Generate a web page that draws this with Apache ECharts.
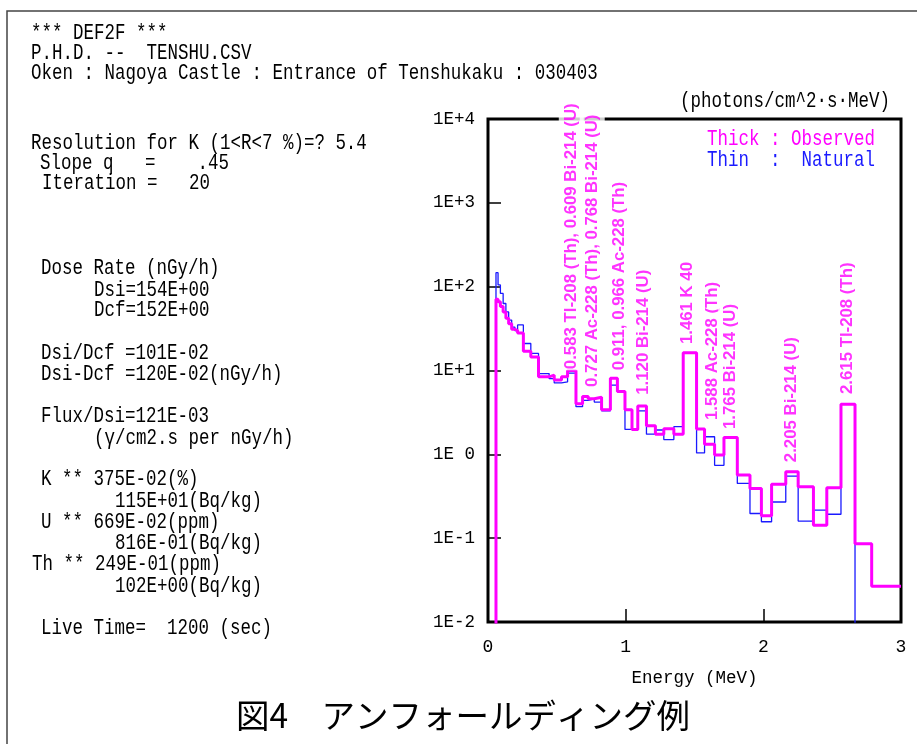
<!DOCTYPE html>
<html><head><meta charset="utf-8">
<script src="https://cdn.jsdelivr.net/npm/echarts@6/dist/echarts.min.js"></script>
<style>html,body{margin:0;padding:0;background:#fff}#c{width:917px;height:744px}</style>
</head><body><div id="c"></div>
<script>
// Bin edges (MeV)
const binEdges = [0, 0.058, 0.073, 0.090, 0.110, 0.130, 0.150, 0.172, 0.195, 0.215,
  0.257, 0.311, 0.367, 0.444, 0.481, 0.534, 0.578, 0.639, 0.687, 0.728,
  0.772, 0.825, 0.889, 0.940, 0.995, 1.046, 1.088, 1.151, 1.216, 1.277,
  1.350, 1.418, 1.515, 1.573, 1.646, 1.714, 1.811, 1.903, 1.986, 2.060,
  2.163, 2.253, 2.364, 2.461, 2.564, 2.666, 2.787, 3.0];
// Thick : Observed (photons/cm^2·s·MeV)
const observed = [0.001, 71, 66, 58, 50, 42, 36, 31, 30,
  28, 17, 14.5, 8.4, 8.8, 7.7, 8.4, 10, 4.0, 4.9,
  4.6, 4.8, 3.4, 8.1, 5.6, 3.4, 1.98, 3.76, 2.2, 1.74,
  2.02, 1.74, 16.3, 2.0, 1.32, 0.98, 1.59, 0.565, 0.39, 0.185,
  0.44, 0.62, 0.41, 0.143, 0.40, 3.97, 0.086, 0.0267];
// Thin : Natural
const natural = [0.001, 147, 105, 83, 63, 50, 40, 33, 30,
  35, 21, 16, 9.2, 8, 7.1, 7.3, 9.3, 3.7, 4.4,
  4.6, 4.2, 3.3, 6.7, 5.6, 1.98, 1.95, 3.3, 1.74, 1.95,
  1.5, 2.14, 16.3, 1.04, 1.62, 0.74, 1.59, 0.45, 0.197, 0.157,
  0.27, 0.55, 0.16, 0.216, 0.193, 3.97, 0.001, 0.001];
// Peak annotations
const peakLabels = ['0.583 Tl-208 (Th), 0.609 Bi-214 (U)', '0.727 Ac-228 (Th), 0.768 Bi-214 (U)',
  '0.911, 0.966 Ac-228 (Th)', '1.120 Bi-214 (U)', '1.461 K 40', '1.588 Ac-228 (Th)',
  '1.765 Bi-214 (U)', '2.205 Bi-214 (U)', '2.615 Tl-208 (Th)'];
const peakE = [0.605, 0.757, 0.954, 1.129, 1.449, 1.628, 1.763, 2.203, 2.607];
const peakY = [10.1, 6.2, 9.8, 5.0, 20.1, 2.5, 1.95, 0.785, 5.1];
const xTicks = [0, 1, 2, 3];

const steps = (edges, vals) => {
  const p = vals.map((v, i) => [edges[i], v]);
  p.push([edges[edges.length - 1], vals[vals.length - 1]]);
  return p;
};
const MONO = '"Liberation Mono", monospace';
const txt = (x, y, t, color) => ({
  type: 'text', x: x, y: y, scaleX: 0.795, z: 10,
  style: { text: t, fontFamily: MONO, fontSize: 22, fill: color || '#000', align: 'left', verticalAlign: 'middle' }
});

const chart = echarts.init(document.getElementById('c'), null, { renderer: 'canvas' });
chart.setOption({
  animation: false,
  backgroundColor: '#fff',
  grid: { left: 488, right: 16, top: 119, bottom: 122, show: true, borderColor: '#000', borderWidth: 3, backgroundColor: 'transparent' },
  xAxis: {
    type: 'value', min: xTicks[0], max: xTicks[xTicks.length - 1], interval: 1,
    axisLine: { show: false },
    axisTick: { show: true, inside: true, length: 13, lineStyle: { color: '#000', width: 1.5 } },
    splitLine: { show: false },
    axisLabel: { fontFamily: MONO, fontSize: 18, color: '#000', margin: 16 },
    name: 'Energy (MeV)', nameLocation: 'middle', nameGap: 47,
    nameTextStyle: { fontFamily: MONO, fontSize: 17.5, color: '#000' }
  },
  yAxis: {
    type: 'log', logBase: 10, min: 0.01, max: 10000, splitNumber: 6,
    axisLine: { show: false },
    axisTick: { show: true, inside: true, length: 13, lineStyle: { color: '#000', width: 1.5 } },
    splitLine: { show: false },
    minorTick: { show: false },
    axisLabel: {
      fontFamily: MONO, fontSize: 17.5, color: '#000', margin: 13,
      formatter: v => { const e = Math.round(Math.log10(v)); return e === 0 ? '1E 0' : '1E' + (e > 0 ? '+' : '') + e; }
    }
  },
  series: [
    { name: 'Natural', type: 'line', step: 'end', symbol: 'none', clip: true, z: 3,
      lineStyle: { color: '#1a1aff', width: 1.3 }, data: steps(binEdges, natural) },
    { name: 'Observed', type: 'line', step: 'end', symbol: 'none', clip: true, z: 4,
      lineStyle: { color: '#ff00ff', width: 3 }, data: steps(binEdges, observed) },
    { name: 'Peaks', type: 'scatter', symbolSize: 1, z: 6, silent: true, clip: false,
      itemStyle: { color: 'rgba(0,0,0,0)' },
      label: { show: true, position: 'inside', rotate: 90, align: 'left', verticalAlign: 'middle',
        formatter: '{b}', color: '#ff00ff', fontFamily: '"Liberation Sans", Arial, sans-serif', fontWeight: 'bold', fontSize: 16.8,
        backgroundColor: '#fff', padding: [4, 1, 4, 1] },
      data: peakE.map((e, i) => ({ name: peakLabels[i], value: [e, peakY[i]] })) }
  ],
  graphic: [
    { type: 'rect', z: 0, shape: { x: 7, y: 11, width: 1000, height: 800 }, style: { fill: 'none', stroke: '#444', lineWidth: 1.5 } },
    txt(31, 33, '*** DEF2F ***'),
    txt(31, 53, 'P.H.D. --  TENSHU.CSV'),
    txt(31, 73, 'Oken : Nagoya Castle : Entrance of Tenshukaku : 030403'),
    txt(31, 143, 'Resolution for K (1<R<7 %)=? 5.4'),
    txt(40, 163, 'Slope q   =    .45'),
    txt(42, 183, 'Iteration =   20'),
    txt(41, 268, 'Dose Rate (nGy/h)'),
    txt(94, 290, 'Dsi=154E+00'),
    txt(94, 310, 'Dcf=152E+00'),
    txt(41, 353, 'Dsi/Dcf =101E-02'),
    txt(41, 374, 'Dsi-Dcf =120E-02(nGy/h)'),
    txt(41, 416, 'Flux/Dsi=121E-03'),
    txt(94, 438, '(γ/cm2.s per nGy/h)'),
    txt(41, 479, 'K ** 375E-02(%)'),
    txt(115, 501, '115E+01(Bq/kg)'),
    txt(41, 522, 'U ** 669E-02(ppm)'),
    txt(115, 543, '816E-01(Bq/kg)'),
    txt(32, 564, 'Th ** 249E-01(ppm)'),
    txt(115, 586, '102E+00(Bq/kg)'),
    txt(41, 628, 'Live Time=  1200 (sec)'),
    txt(680, 101, '(photons/cm^2·s·MeV)'),
    txt(707, 139, 'Thick : Observed', '#ff00ff'),
    txt(707, 160, 'Thin  :  Natural', '#1a1aff'),
    { type: 'text', x: 463, y: 715, z: 10,
      style: { text: '図4　アンフォールディング例', fontFamily: '"Noto Sans CJK JP", sans-serif', fontSize: 33.5, fill: '#000', align: 'center', verticalAlign: 'middle' } }
  ]
});
</script></body></html>
